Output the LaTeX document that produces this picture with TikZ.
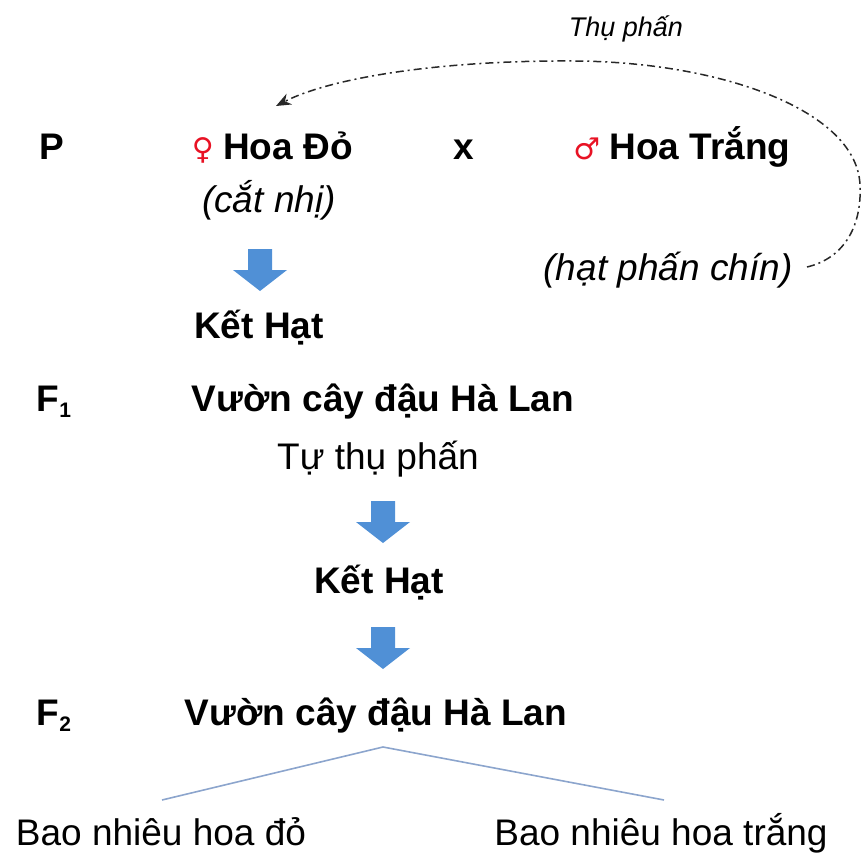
\documentclass[tikz,border=0pt]{standalone}
\usepackage{fontspec}
\setmainfont{Liberation Sans}
\newfontfamily\symfont{DejaVu Sans}
\usetikzlibrary{arrows.meta}
\definecolor{arrowblue}{RGB}{80,144,214}
\definecolor{linkblue}{RGB}{140,165,205}
\definecolor{symred}{RGB}{232,18,36}
\definecolor{curvegray}{RGB}{40,40,40}
\tikzset{
  bigtxt/.style={font=\fontsize{37}{44}\selectfont\bfseries, inner sep=0pt, anchor=base},
  regtxt/.style={font=\fontsize{37}{44}\selectfont, inner sep=0pt, anchor=base},
  italtxt/.style={font=\fontsize{37}{44}\selectfont\itshape, inner sep=0pt, anchor=base},
  smalltxt/.style={font=\fontsize{27}{32}\selectfont\itshape, inner sep=0pt, anchor=base},
  symtxt/.style={font=\fontsize{30}{34}\selectfont\symfont\bfseries, text=symred, inner sep=0pt, anchor=base east},
  downarrow/.pic={\fill[arrowblue] (-12,0) -- (12,0) -- (12,21) -- (27,21) -- (0,42) -- (-27,21) -- (-12,21) -- cycle;},
  pollen/.style={draw=curvegray, line width=1.5pt, dash pattern=on 8pt off 4pt on 2pt off 4pt,
    -{Stealth[length=15pt,width=12pt]}},
  split/.style={draw=linkblue, line width=1.6pt},
}
\newcommand{\subidx}[1]{\raisebox{-6pt}{\fontsize{21}{21}\selectfont #1}}
\begin{document}
\begin{tikzpicture}[x=1pt,y=-1pt]
\useasboundingbox (0,0) rectangle (862,853);
% P row
\node[bigtxt] (P) at (52,160) {P};
\node[bigtxt] (hoado) at (288,160) {Hoa Đỏ};
\node[symtxt] (fem) at ([xshift=-9pt]hoado.base west) {♀};
\node[bigtxt] (cross) at (464,160) {x};
\node[bigtxt] (hoatrang) at (700,160) {Hoa Trắng};
\node[symtxt] (male) at ([xshift=-9pt]hoatrang.base west) {♂};
\node[italtxt] (catnhi) at (269,213) {(cắt nhị)};
\node[italtxt] (hatphan) at (668,280) {(hạt phấn chín)};
\node[smalltxt] (thuphan) at (626,37) {Thụ phấn};
% pollination curve
\coordinate (pstart) at (807,267);
\coordinate (ptip) at (276,106);
\draw[pollen] (pstart) .. controls (845,258) and (862,225) .. (860,185)
  .. controls (857,110) and (720,62) .. (575,61)
  .. controls (440,60) and (330,78) .. (ptip);
% first arrow and seed
\pic at (260,249) {downarrow};
\node[bigtxt] (ket1) at (259,338) {Kết Hạt};
% F1
\node[bigtxt] (F1) at (54,411) {F\subidx{1}};
\node[bigtxt] (vuon1) at (383,411) {Vườn cây đậu Hà Lan};
\node[regtxt] (tuthu) at (378,469) {Tự thụ phấn};
\pic at (383,501) {downarrow};
\node[bigtxt] (ket2) at (379,593) {Kết Hạt};
\pic at (383,627) {downarrow};
% F2
\node[bigtxt] (F2) at (54,725) {F\subidx{2}};
\node[bigtxt] (vuon2) at (376,725) {Vườn cây đậu Hà Lan};
\coordinate (fork) at (383,747);
\coordinate (leftend) at (162,800);
\coordinate (rightend) at (664,800);
\draw[split] (leftend) -- (fork) -- (rightend);
\node[regtxt] (baodo) at (161,845) {Bao nhiêu hoa đỏ};
\node[regtxt] (baotrang) at (661,845) {Bao nhiêu hoa trắng};
\end{tikzpicture}
\end{document}
